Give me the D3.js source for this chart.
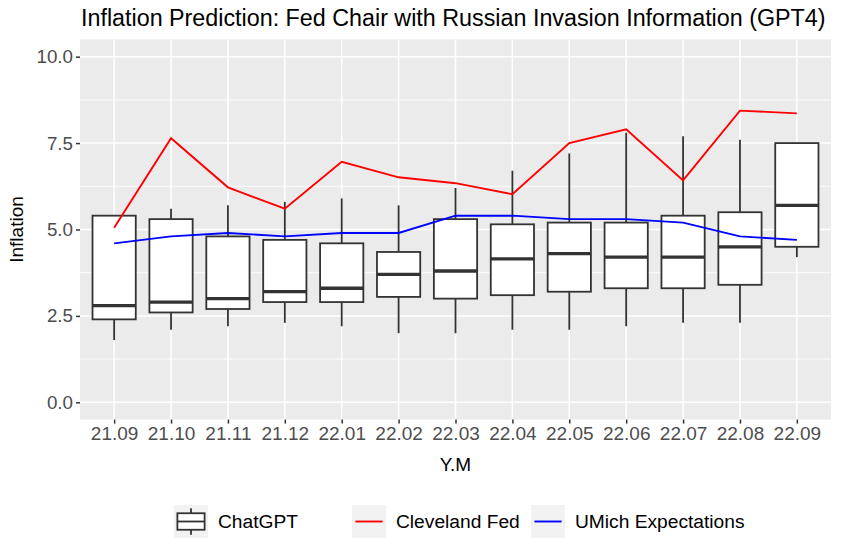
<!DOCTYPE html>
<html>
<head>
<meta charset="utf-8">
<script src="https://cdn.jsdelivr.net/npm/d3@7"></script>
<style>
  html, body { margin: 0; padding: 0; background: #fff; }
  svg { display: block; font-family: "Liberation Sans", Arial, Helvetica, sans-serif; }
</style>
</head>
<body>
<svg id="chart" width="844" height="546"></svg>
<script>
// ---- data ----
const categories = ["21.09","21.10","21.11","21.12","22.01","22.02","22.03","22.04","22.05","22.06","22.07","22.08","22.09"];
const boxMin    = [1.8, 2.1, 2.2, 2.3, 2.2, 2.0, 2.0, 2.1, 2.1, 2.2, 2.3, 2.3, 4.2];
const boxQ1     = [2.4, 2.6, 2.7, 2.9, 2.9, 3.05, 3.0, 3.1, 3.2, 3.3, 3.3, 3.4, 4.5];
const boxMedian = [2.8, 2.9, 3.0, 3.2, 3.3, 3.7, 3.8, 4.15, 4.3, 4.2, 4.2, 4.5, 5.7];
const boxQ3     = [5.4, 5.3, 4.8, 4.7, 4.6, 4.35, 5.3, 5.15, 5.2, 5.2, 5.4, 5.5, 7.5];
const boxMax    = [5.4, 5.6, 5.7, 5.8, 5.9, 5.7, 6.2, 6.7, 7.2, 7.8, 7.7, 7.6, 7.5];
const clevelandFed = [5.05, 7.64, 6.22, 5.60, 6.96, 6.51, 6.34, 6.02, 7.50, 7.90, 6.42, 8.44, 8.36];
const umich        = [4.6, 4.8, 4.9, 4.8, 4.9, 4.9, 5.4, 5.4, 5.3, 5.3, 5.2, 4.8, 4.7];
const yTicks = [0, 2.5, 5, 7.5, 10];
const yMinorTicks = [1.25, 3.75, 6.25, 8.75];
const legendLabels = ["ChatGPT", "Cleveland Fed", "UMich Expectations"];

// ---- layout ----
const P = { left: 80, right: 831, top: 39.4, bottom: 419.6 };
const svg = d3.select("#chart");

const x = d3.scalePoint().domain(categories).range([P.left, P.right]).padding(0.6);
const y = d3.scaleLinear().domain([-0.5, 10.5]).range([P.bottom, P.top]);
const step = x.step();
const boxW = step * 0.76;
const boxStroke = 1.8;

// panel background
svg.append("rect").attr("x", P.left).attr("y", P.top)
  .attr("width", P.right - P.left).attr("height", P.bottom - P.top).attr("fill", "#EBEBEB");

// grid
const g = svg.append("g");
g.selectAll(".minor").data(yMinorTicks).join("line")
  .attr("x1", P.left).attr("x2", P.right)
  .attr("y1", d => y(d)).attr("y2", d => y(d))
  .attr("stroke", "#fff").attr("stroke-width", 0.8);
g.selectAll(".major").data(yTicks).join("line")
  .attr("x1", P.left).attr("x2", P.right)
  .attr("y1", d => y(d)).attr("y2", d => y(d))
  .attr("stroke", "#fff").attr("stroke-width", 1.5);
g.selectAll(".vmajor").data(categories).join("line")
  .attr("x1", d => x(d)).attr("x2", d => x(d))
  .attr("y1", P.top).attr("y2", P.bottom)
  .attr("stroke", "#fff").attr("stroke-width", 1.5);

// boxplots
const boxes = categories.map((c, i) => ({ c, min: boxMin[i], q1: boxQ1[i], med: boxMedian[i], q3: boxQ3[i], max: boxMax[i] }));
const bg = svg.append("g");
boxes.forEach(b => {
  const cx = x(b.c);
  bg.append("line").attr("x1", cx).attr("x2", cx).attr("y1", y(b.q3)).attr("y2", y(b.max))
    .attr("stroke", "#333333").attr("stroke-width", boxStroke);
  bg.append("line").attr("x1", cx).attr("x2", cx).attr("y1", y(b.q1)).attr("y2", y(b.min))
    .attr("stroke", "#333333").attr("stroke-width", boxStroke);
  bg.append("rect").attr("x", cx - boxW / 2).attr("y", y(b.q3))
    .attr("width", boxW).attr("height", y(b.q1) - y(b.q3))
    .attr("fill", "#fff").attr("stroke", "#333333").attr("stroke-width", boxStroke);
  bg.append("line").attr("x1", cx - boxW / 2).attr("x2", cx + boxW / 2)
    .attr("y1", y(b.med)).attr("y2", y(b.med))
    .attr("stroke", "#333333").attr("stroke-width", 3.3);
});

// lines
const line = d3.line().x((d, i) => x(categories[i])).y(d => y(d));
svg.append("path").datum(umich).attr("d", line).attr("fill", "none")
  .attr("stroke", "#0000FF").attr("stroke-width", 1.9);
svg.append("path").datum(clevelandFed).attr("d", line).attr("fill", "none")
  .attr("stroke", "#FF0000").attr("stroke-width", 1.9);

// axes
const yAxis = d3.axisLeft(y).tickValues(yTicks).tickFormat(d3.format(".1f")).tickSize(4).tickPadding(3);
const ya = svg.append("g").attr("transform", `translate(${P.left},0)`).call(yAxis);
ya.select(".domain").remove();
ya.selectAll(".tick line").attr("stroke", "#333333").attr("stroke-width", 1.5);
ya.selectAll(".tick text").attr("fill", "#4D4D4D").style("font-size", "18.8px")
  .style("font-family", "'Liberation Sans', Arial, sans-serif");

const xAxis = d3.axisBottom(x).tickSize(4).tickPadding(3);
const xa = svg.append("g").attr("transform", `translate(0,${P.bottom})`).call(xAxis);
xa.select(".domain").remove();
xa.selectAll(".tick line").attr("stroke", "#333333").attr("stroke-width", 1.5);
xa.selectAll(".tick text").attr("fill", "#4D4D4D").style("font-size", "19px")
  .style("font-family", "'Liberation Sans', Arial, sans-serif");

// titles
svg.append("text").attr("x", 81).attr("y", 25.5).text("Inflation Prediction: Fed Chair with Russian Invasion Information (GPT4)")
  .style("font-size", "23.3px").attr("fill", "#000");
svg.append("text").attr("x", (P.left + P.right) / 2).attr("y", 471).attr("text-anchor", "middle")
  .text("Y.M").style("font-size", "19px").attr("fill", "#000");
svg.append("text").attr("transform", `translate(23,${(P.top + P.bottom) / 2}) rotate(-90)`)
  .attr("text-anchor", "middle").text("Inflation").style("font-size", "19px").attr("fill", "#000");

// legend
const legendX = [174, 352, 531];
const keyW = 34, keyH = 33, keyY = 505;
const lg = svg.append("g");
legendLabels.forEach((lab, i) => {
  const kx = legendX[i];
  lg.append("rect").attr("x", kx).attr("y", keyY).attr("width", keyW).attr("height", keyH).attr("fill", "#F2F2F2");
  if (i === 0) {
    const cx = kx + keyW / 2;
    lg.append("line").attr("x1", cx).attr("x2", cx).attr("y1", keyY + keyH * 0.1).attr("y2", keyY + keyH * 0.25)
      .attr("stroke", "#333333").attr("stroke-width", boxStroke);
    lg.append("line").attr("x1", cx).attr("x2", cx).attr("y1", keyY + keyH * 0.75).attr("y2", keyY + keyH * 0.9)
      .attr("stroke", "#333333").attr("stroke-width", boxStroke);
    lg.append("rect").attr("x", kx + keyW * 0.1).attr("y", keyY + keyH * 0.25)
      .attr("width", keyW * 0.8).attr("height", keyH * 0.5)
      .attr("fill", "#fff").attr("stroke", "#333333").attr("stroke-width", boxStroke);
    lg.append("line").attr("x1", kx + keyW * 0.1).attr("x2", kx + keyW * 0.9)
      .attr("y1", keyY + keyH / 2).attr("y2", keyY + keyH / 2)
      .attr("stroke", "#333333").attr("stroke-width", boxStroke);
  } else {
    lg.append("line").attr("x1", kx + keyW * 0.1).attr("x2", kx + keyW * 0.9)
      .attr("y1", keyY + keyH / 2).attr("y2", keyY + keyH / 2)
      .attr("stroke", i === 1 ? "#FF0000" : "#0000FF").attr("stroke-width", 1.9);
  }
  lg.append("text").attr("x", kx + keyW + 10).attr("y", keyY + keyH / 2).attr("dy", "0.35em")
    .text(lab).style("font-size", "19.2px").attr("fill", "#000");
});
</script>
</body>
</html>
